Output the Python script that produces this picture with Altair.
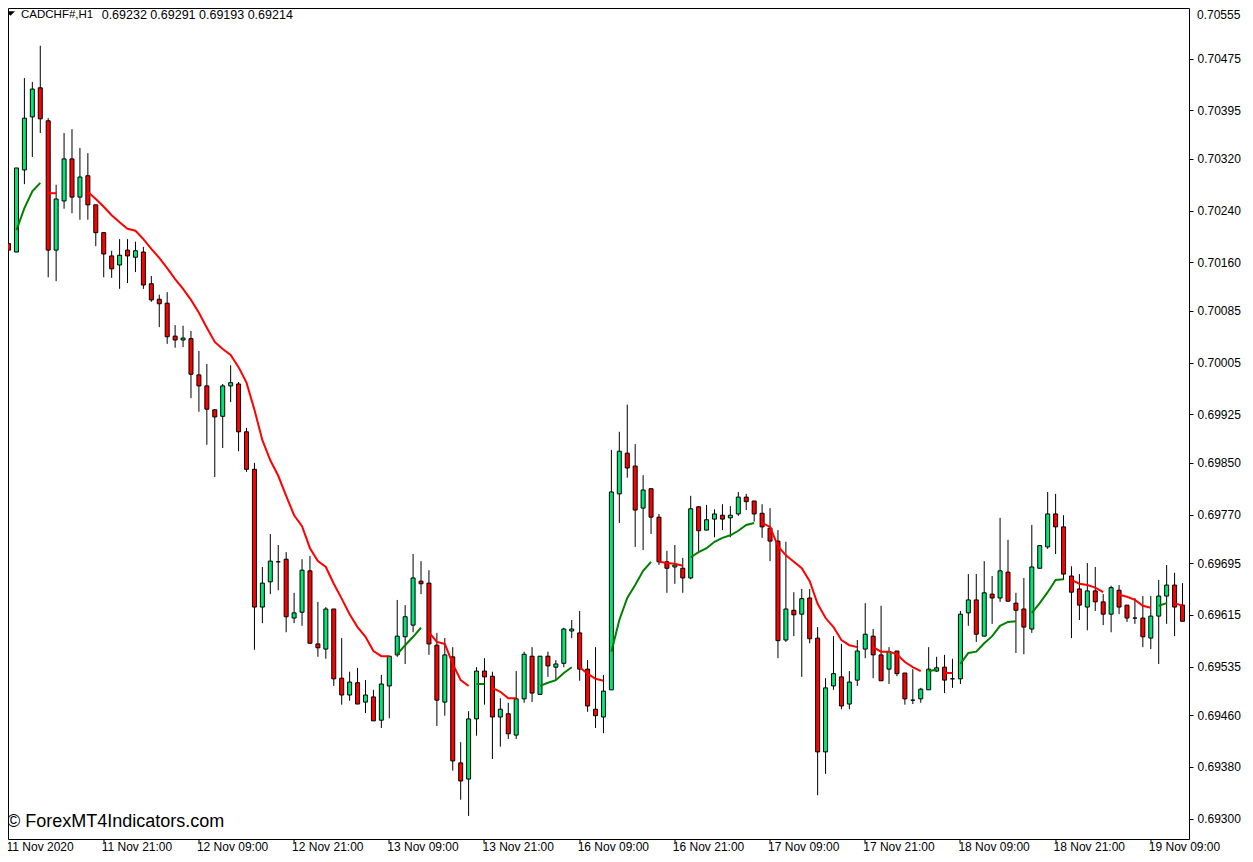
import altair as alt
import pandas as pd

# ---------------- data: CADCHF# H1 candles (prices in points, 1 point = 0.00001) -------------
open_pts = [
    70189, 70176, 70303, 70385, 70430, 70379, 70179, 70255, 70320, 70261,
    70294, 70249, 70206, 70170, 70156, 70179, 70168, 70176, 70127, 70103,
    70097, 70046, 70040, 70042, 69986, 69969, 69932, 69922, 69969, 69972,
    69898, 69840, 69627, 69666, 69697, 69701, 69610, 69619, 69683, 69570,
    69562, 69624, 69517, 69491, 69510, 69480, 69488, 69452, 69505, 69553,
    69581, 69599, 69667, 69664, 69568, 69480, 69550, 69386, 69361, 69454,
    69528, 69520, 69457, 69462, 69429, 69485, 69551, 69492, 69551, 69534,
    69540, 69590, 69587, 69531, 69469, 69457, 69499, 69802, 69865, 69845,
    69780, 69810, 69766, 69697, 69689, 69687, 69672, 69782, 69746, 69763,
    69769, 69765, 69771, 69797, 69791, 69772, 69749, 69729, 69576, 69622,
    69616, 69641, 69579, 69403, 69505, 69519, 69477, 69514, 69562, 69582,
    69553, 69531, 69559, 69525, 69483, 69485, 69499, 69528, 69534, 69516,
    69516, 69618, 69638, 69582, 69647, 69641, 69681, 69633, 69624, 69593,
    69687, 69720, 69771, 69751, 69675, 69655, 69627, 69652, 69635, 69616,
    69653, 69630, 69610, 69610, 69579, 69613, 69644, 69661, 69630,
]
high_pts = [
    70246, 70306, 70445, 70439, 70495, 70383, 70280, 70360, 70366, 70337,
    70329, 70249, 70206, 70178, 70196, 70196, 70192, 70184, 70139, 70110,
    70114, 70063, 70062, 70054, 70023, 70003, 69933, 69972, 70001, 69975,
    69904, 69850, 69689, 69740, 69723, 69712, 69649, 69701, 69706, 69635,
    69627, 69624, 69579, 69527, 69533, 69514, 69499, 69522, 69551, 69638,
    69630, 69709, 69698, 69684, 69587, 69579, 69565, 69418, 69466, 69534,
    69548, 69527, 69486, 69479, 69528, 69558, 69565, 69551, 69558, 69545,
    69595, 69607, 69621, 69545, 69565, 69522, 69870, 69898, 69940, 69879,
    69831, 69810, 69771, 69714, 69723, 69703, 69799, 69783, 69785, 69778,
    69786, 69783, 69805, 69802, 69791, 69786, 69780, 69746, 69728, 69650,
    69655, 69655, 69596, 69517, 69582, 69570, 69528, 69576, 69633, 69593,
    69629, 69565, 69559, 69525, 69531, 69502, 69565, 69550, 69553, 69547,
    69621, 69678, 69678, 69698, 69675, 69765, 69731, 69649, 69672, 69754,
    69723, 69805, 69802, 69769, 69690, 69678, 69695, 69689, 69647, 69660,
    69661, 69630, 69641, 69644, 69644, 69669, 69692, 69680, 69664,
]
low_pts = [
    70179, 70176, 70281, 70323, 70360, 70137, 70131, 70243, 70236, 70226,
    70226, 70185, 70137, 70136, 70119, 70128, 70145, 70119, 70099, 70060,
    70034, 70028, 70029, 69950, 69929, 69878, 69828, 69873, 69944, 69868,
    69836, 69561, 69602, 69647, 69653, 69588, 69602, 69598, 69571, 69550,
    69547, 69505, 69476, 69482, 69477, 69463, 69451, 69440, 69455, 69550,
    69539, 69588, 69647, 69553, 69443, 69459, 69374, 69329, 69304, 69428,
    69476, 69392, 69411, 69423, 69423, 69479, 69480, 69492, 69519, 69514,
    69534, 69579, 69513, 69465, 69440, 69432, 69499, 69757, 69827, 69720,
    69715, 69740, 69692, 69649, 69663, 69649, 69670, 69712, 69746, 69735,
    69746, 69735, 69768, 69777, 69759, 69734, 69698, 69548, 69573, 69582,
    69519, 69571, 69336, 69369, 69499, 69469, 69469, 69505, 69548, 69517,
    69513, 69508, 69520, 69476, 69477, 69479, 69499, 69527, 69494, 69502,
    69508, 69598, 69573, 69582, 69601, 69635, 69636, 69556, 69554, 69587,
    69687, 69717, 69709, 69669, 69579, 69607, 69591, 69621, 69599, 69588,
    69616, 69604, 69601, 69565, 69562, 69539, 69601, 69582, 69605,
]
close_pts = [
    70179, 70306, 70383, 70428, 70382, 70179, 70258, 70320, 70261, 70292,
    70249, 70206, 70173, 70150, 70171, 70170, 70178, 70125, 70102, 70096,
    70045, 70040, 70043, 69987, 69969, 69933, 69921, 69969, 69974, 69898,
    69840, 69627, 69664, 69698, 69697, 69612, 69618, 69684, 69571, 69564,
    69624, 69516, 69491, 69511, 69477, 69491, 69451, 69508, 69551, 69582,
    69612, 69672, 69663, 69570, 69483, 69553, 69389, 69358, 69454, 69528,
    69519, 69457, 69469, 69431, 69485, 69554, 69494, 69551, 69536, 69539,
    69593, 69593, 69531, 69474, 69459, 69497, 69805, 69868, 69842, 69777,
    69808, 69766, 69697, 69687, 69692, 69672, 69779, 69745, 69762, 69771,
    69763, 69769, 69797, 69790, 69771, 69751, 69729, 69575, 69624, 69615,
    69640, 69578, 69403, 69502, 69524, 69474, 69511, 69559, 69585, 69553,
    69513, 69558, 69524, 69485, 69483, 69500, 69531, 69533, 69514, 69516,
    69616, 69638, 69585, 69649, 69641, 69683, 69636, 69622, 69596, 69689,
    69722, 69771, 69751, 69678, 69650, 69630, 69652, 69635, 69616, 69657,
    69627, 69610, 69610, 69581, 69613, 69644, 69661, 69627, 69605,
]

# moving-average indicator: visible segments (first bar, trend, values in points)
ma_start = [1, 5, 10, 49, 53, 59, 61, 67, 72, 76, 82, 86, 95, 109, 116, 118, 120, 129, 134, 140, 145, 147]
ma_trend = ["up", "down", "down", "up", "down", "up", "down", "up", "down", "up", "down",
            "up", "down", "down", "up", "down", "up", "up", "down", "down", "up", "down"]
ma_values = [
    [70210, 70244, 70270, 70283],
    [70267, 70267],
    [70269, 70258, 70246, 70233, 70222, 70212, 70209, 70196, 70181, 70167,
     70151, 70134, 70119, 70102, 70082, 70059, 70037, 70026, 70017, 69998,
     69974, 69932, 69885, 69854, 69830, 69799, 69769, 69752, 69718, 69698,
     69689, 69663, 69640, 69616, 69596, 69581, 69559, 69551, 69551],
    [69554, 69568, 69581, 69595],
    [69588, 69573, 69570, 69539, 69514, 69505],
    [69508, 69508],
    [69502, 69496, 69486, 69486],
    [69505, 69510, 69514, 69525, 69534],
    [69534, 69524, 69516, 69513],
    [69558, 69607, 69641, 69661, 69683, 69697],
    [69697, 69695, 69694, 69691],
    [69704, 69712, 69718, 69728, 69734, 69738, 69745, 69754, 69757],
    [69757, 69751, 69721, 69707, 69697, 69687, 69667, 69632, 69610, 69596, 69576, 69568, 69565],
    [69565, 69558, 69558, 69554, 69542, 69534, 69528],
    [69528, 69530],
    [69525, 69525],
    [69539, 69556, 69558, 69571, 69582, 69598, 69604, 69605],
    [69618, 69633, 69650, 69669, 69670],
    [69669, 69663, 69661, 69657, 69650],
    [69646, 69643, 69638, 69629, 69626],
    [69629, 69633],
    [69633, 69629],
]

x_tick_bars = [0, 12, 24, 36, 48, 60, 72, 84, 96, 108, 120, 132, 144]
x_tick_labels = ["11 Nov 2020", "11 Nov 21:00", "12 Nov 09:00", "12 Nov 21:00", "13 Nov 09:00",
                 "13 Nov 21:00", "16 Nov 09:00", "16 Nov 21:00", "17 Nov 09:00", "17 Nov 21:00",
                 "18 Nov 09:00", "18 Nov 21:00", "19 Nov 09:00"]
y_tick_labels = ["0.70555", "0.70475", "0.70395", "0.70320", "0.70240", "0.70160", "0.70085",
                 "0.70005", "0.69925", "0.69850", "0.69770", "0.69695", "0.69615", "0.69535",
                 "0.69460", "0.69380", "0.69300"]

symbol_text = "CADCHF#,H1"
ohlc_text = "0.69232 0.69291 0.69193 0.69214"
watermark_text = "\u00a9 ForexMT4Indicators.com"

# ---------------- build tables ----------------
PT = 1e-5
n = len(open_pts)
candles = pd.DataFrame({
    "bar": list(range(n)),
    "open": [v * PT for v in open_pts],
    "high": [v * PT for v in high_pts],
    "low": [v * PT for v in low_pts],
    "close": [v * PT for v in close_pts],
})
candles["dir"] = ["up" if c > o else ("down" if c < o else "flat")
                  for o, c in zip(open_pts, close_pts)]

rows = []
for k, (s, t, vals) in enumerate(zip(ma_start, ma_trend, ma_values)):
    for j, v in enumerate(vals):
        rows.append({"bar": s + j, "ma": v * PT, "trend": t, "seg": k})
ma_df = pd.DataFrame(rows)

UP = "#00e676"
DOWN = "#ff0000"
FONT = "Liberation Sans"

W, H = 1181, 831
x_scale = alt.Scale(domain=[0.5625, 148.1875], nice=False, zero=False)
y_scale = alt.Scale(domain=[0.692683, 0.705534], nice=False, zero=False)

label_arr = "[" + ",".join("'%s'" % s for s in x_tick_labels) + "]"
x_axis = alt.Axis(values=x_tick_bars[1:], labelExpr=label_arr + "[round(datum.value/12)]",
                  orient="bottom", title=None, grid=False, domain=False,
                  tickSize=4, tickColor="black", tickWidth=1, translate=0,
                  labelAlign="left", labelBaseline="alphabetic", labelPadding=8,
                  labelOffset=-2,
                  labelFont=FONT, labelFontSize=12, labelColor="black",
                  labelOverlap=False, labelFlush=False, labelBound=False)
y_axis = alt.Axis(values=[float(s) for s in y_tick_labels[1:]], format=".5f",
                  orient="right", title=None, grid=False, domain=False,
                  tickSize=4, tickColor="black", tickWidth=1,
                  labelAlign="left", labelBaseline="middle", labelPadding=4,
                  labelFont=FONT, labelFontSize=12, labelColor="black",
                  labelOverlap=False, labelFlush=False)

X = alt.X("bar:Q", scale=x_scale, axis=x_axis)

wicks = alt.Chart(candles).mark_rule(color="black", strokeWidth=1, clip=True).encode(
    x=X,
    y=alt.Y("low:Q", scale=y_scale, axis=y_axis),
    y2="high:Q",
)
bodies = alt.Chart(candles).mark_bar(size=4, stroke="black", strokeWidth=1, clip=True).encode(
    x=X,
    y=alt.Y("open:Q", scale=y_scale, axis=y_axis),
    y2="close:Q",
    fill=alt.Fill("dir:N", scale=alt.Scale(domain=["up", "down", "flat"],
                                           range=[UP, DOWN, "black"]), legend=None),
)
ma_line = alt.Chart(ma_df).mark_line(strokeWidth=2, clip=True).encode(
    x=X,
    y=alt.Y("ma:Q", scale=y_scale, axis=y_axis),
    color=alt.Color("trend:N", scale=alt.Scale(domain=["up", "down"],
                                               range=["#008000", "#ff0000"]), legend=None),
    detail="seg:N",
    order="bar:Q",
)


def text_layer(txt, x, y, size, baseline="middle", align="left"):
    return alt.Chart(pd.DataFrame({"t": [txt]})).mark_text(
        align=align, baseline=baseline, font=FONT, fontSize=size, color="black"
    ).encode(x=alt.value(x), y=alt.value(y), text="t:N")


triangle = alt.Chart(pd.DataFrame({"a": [0]})).mark_point(
    shape="M-1,-0.5L1,-0.5L0,0.5Z", size=81, filled=True, color="black", opacity=1
).encode(x=alt.value(2.5), y=alt.value(5.5))

header1 = text_layer(symbol_text, 13, 7, 11.5)
header2 = text_layer(ohlc_text, 93.7, 7, 12.5)
first_xlabel = text_layer(x_tick_labels[0], -1.5, 843, 12, baseline="alphabetic")
top_ylabel = text_layer(y_tick_labels[0], 1189, 7, 12)
watermark = text_layer(watermark_text, -1, 818.7, 18, baseline="alphabetic")

chart = alt.layer(
    wicks, bodies, ma_line, triangle, header1, header2, first_xlabel, top_ylabel, watermark
).properties(
    width=W, height=H,
    padding={"left": 0, "top": 0, "right": 56, "bottom": 15},
    autosize=alt.AutoSizeParams(type="none"),
    background="white",
).configure_view(stroke="black", strokeWidth=1)

chart.save("out.html", embed_options={"renderer": "svg", "actions": False})
